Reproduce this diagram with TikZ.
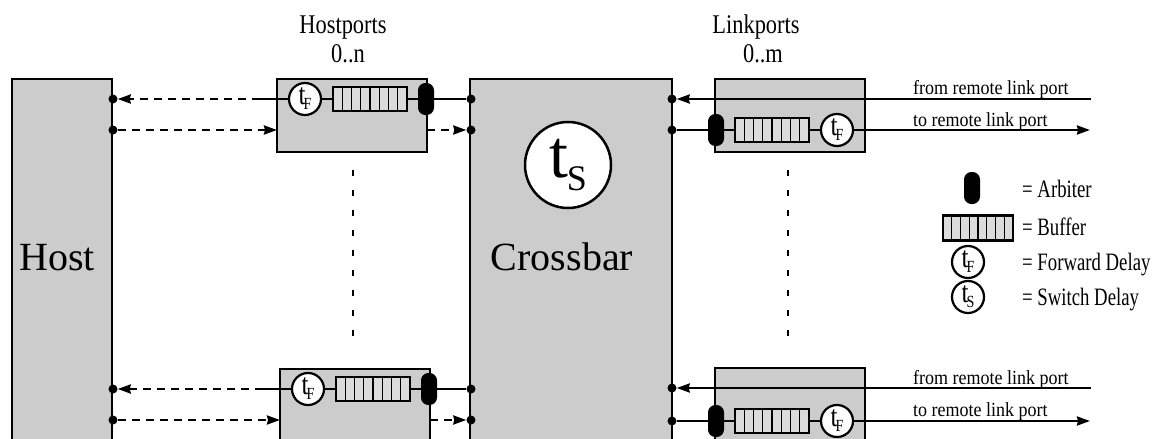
\documentclass[tikz,border=0pt]{standalone}
\usepackage{fontspec}
\setmainfont{Liberation Serif}
\newfontfamily\condA[FakeStretch=0.83]{Liberation Serif}
\newfontfamily\condB[FakeStretch=0.75]{Liberation Serif}
\newfontfamily\condC[FakeStretch=0.9]{Liberation Serif}
\usetikzlibrary{arrows.meta,calc}
\pgfdeclarelayer{front}
\pgfsetlayers{main,front}
\definecolor{boxgray}{gray}{0.8}
\definecolor{bufgray}{gray}{0.86}
\newcommand{\smalldelay}[1]{{\condA\fontsize{30}{30}\selectfont t}\kern-2pt\raisebox{-5pt}{\condA\fontsize{17}{17}\selectfont #1}}
\newcommand{\bigdelay}{{\fontsize{68}{68}\selectfont t}\kern-1pt\raisebox{-13pt}{\fontsize{36}{36}\selectfont S}}
\tikzset{
  block/.style={draw, line width=2.5pt, fill=boxgray, inner sep=0pt, outer sep=0pt, anchor=north west},
  delay/.style={circle, draw, line width=2.2pt, fill=white, inner sep=0pt, minimum size=32pt},
  bigdelaynode/.style={circle, draw, line width=2.5pt, fill=white, inner sep=0pt, minimum size=86pt},
  buffer/.style={draw, line width=2.2pt, fill=bufgray, inner sep=0pt, minimum width=74pt, minimum height=24pt,
    path picture={\foreach \i in {1,...,7}{\draw[line width=1.2pt] ($(path picture bounding box.south west)!\i/8!(path picture bounding box.south east)$) -- ($(path picture bounding box.north west)!\i/8!(path picture bounding box.north east)$);}}},
  arbiter/.style={fill=black, draw=black, line width=1pt, rounded corners=7pt, minimum width=15pt, minimum height=31pt, inner sep=0pt},
  dot/.style={circle, fill=black, inner sep=0pt, minimum size=9pt},
  conn/.style={line width=2.4pt},
  dashconn/.style={line width=2.4pt, dash pattern=on 8pt off 6pt},
  vdots/.style={line width=2.4pt, dash pattern=on 6pt off 14pt},
  lab/.style={font=\condA\fontsize{27}{30}\selectfont, inner sep=0pt},
  small/.style={font=\condC\fontsize{20}{22}\selectfont, inner sep=0pt},
  legend/.style={font=\condB\fontsize{25}{27}\selectfont, inner sep=0pt},
  big/.style={font=\fontsize{40}{44}\selectfont, inner sep=0pt, anchor=base},
}
\begin{document}
\begin{tikzpicture}[x=1pt, y=-1pt, >={Stealth[length=13pt,width=9pt,inset=1pt]}]
\useasboundingbox (0,0) rectangle (1152,439);
\clip (0,0) rectangle (1152,439);

% main blocks
\node[block, minimum width=100pt, minimum height=391pt] (host) at (12,79) {};
\node[block, minimum width=202pt, minimum height=391pt] (xbar) at (470,79) {};
\node[block, minimum width=150pt, minimum height=73pt] (hp1) at (277,79) {};
\node[block, minimum width=150pt, minimum height=100pt] (hp2) at (280,369) {};
\node[block, minimum width=150pt, minimum height=73pt] (lp1) at (715,79) {};
\node[block, minimum width=150pt, minimum height=100pt] (lp2) at (715,368) {};

\node[big] (hosttext) at (57,270) {Host};
\node[big] (xbartext) at (562,270) {Crossbar};

% labels
\node[lab, anchor=base] (hplab) at (343,33) {Hostports};
\node[lab, anchor=base] (hpn) at (348,62) {0..n};
\node[lab, anchor=base] (lplab) at (756,33) {Linkports};
\node[lab, anchor=base] (lpm) at (763,62) {0..m};

\node[small, anchor=base west] (fromA) at (913,94) {from remote link port};
\node[small, anchor=base west] (toA) at (913,126) {to remote link port};
\node[small, anchor=base west] (fromB) at (913,384) {from remote link port};
\node[small, anchor=base west] (toB) at (913,416) {to remote link port};

\begin{pgfonlayer}{front}
% big switch delay
\node[bigdelaynode] (ts) at (568,165) {\bigdelay};
% hostport 1
\node[delay] (tf1) at (305,99) {\smalldelay{F}};
\node[buffer] (buf1) at (370,99) {};
\node[arbiter] (arb1) at (426,99) {};
% hostport 2
\node[delay] (tf2) at (308,389) {\smalldelay{F}};
\node[buffer] (buf2) at (373,389) {};
\node[arbiter] (arb2) at (429,389) {};
% linkport 1
\node[arbiter] (arb3) at (716,130) {};
\node[buffer] (buf3) at (772,130) {};
\node[delay] (tf3) at (837,130) {\smalldelay{F}};
% linkport 2
\node[arbiter] (arb4) at (716,421) {};
\node[buffer] (buf4) at (772,421) {};
\node[delay] (tf4) at (837,421) {\smalldelay{F}};
% dots
\node[dot] (hdA) at (113,99) {};
\node[dot] (hdB) at (113,130) {};
\node[dot] (hdC) at (113,389) {};
\node[dot] (hdD) at (113,420) {};
\node[dot] (cdA) at (471,99) {};
\node[dot] (cdB) at (471,130) {};
\node[dot] (cdC) at (471,389) {};
\node[dot] (cdD) at (471,420) {};
\node[dot] (ceA) at (672,99) {};
\node[dot] (ceB) at (672,130) {};
\node[dot] (ceC) at (672,388) {};
\node[dot] (ceD) at (672,421) {};
% legend
\node[arbiter] (arbL) at (972,188) {};
\node[buffer, minimum width=70pt, minimum height=25pt] (bufL) at (978,228) {};
\node[delay] (tfL) at (968,262) {\smalldelay{F}};
\node[delay] (tsL) at (968,297) {\smalldelay{S}};
\end{pgfonlayer}

\node[legend, anchor=base west] (arbLt) at (1022,197) {= Arbiter};
\node[legend, anchor=base west] (bufLt) at (1022,235) {= Buffer};
\node[legend, anchor=base west] (tfLt) at (1022,270) {= Forward Delay};
\node[legend, anchor=base west] (tsLt) at (1022,305) {= Switch Delay};

% free ends
\coordinate (hpA) at (260,99);
\coordinate (hpC) at (263,389);
\coordinate (remA) at (1091,99);
\coordinate (remB) at (1090,130);
\coordinate (remC) at (1091,388);
\coordinate (remD) at (1090,421);
\coordinate (vh1) at (353,170);
\coordinate (vh2) at (353,350);
\coordinate (vl1) at (788,170);
\coordinate (vl2) at (788,350);

% hostport 1 connectors
\draw[conn] (hpA) -- (cdA);
\draw[dashconn, ->] (hpA) -- (hdA);
\draw[dashconn, ->] (hdB) -- (hdB -| hp1.west);
\draw[dashconn, ->] (hdB -| hp1.east) -- (cdB);
% hostport 2 connectors
\draw[conn] (hpC) -- (cdC);
\draw[dashconn, ->] (hpC) -- (hdC);
\draw[dashconn, ->] (hdD) -- (hdD -| hp2.west);
\draw[dashconn, ->] (hdD -| hp2.east) -- (cdD);
% linkport connectors
\draw[conn, ->] (remA) -- (ceA);
\draw[conn, ->] (ceB) -- (remB);
\draw[conn, ->] (remC) -- (ceC);
\draw[conn, ->] (ceD) -- (remD);
% continuation dots
\draw[vdots] (vh1) -- (vh2);
\draw[vdots] (vl1) -- (vl2);
\end{tikzpicture}
\end{document}
